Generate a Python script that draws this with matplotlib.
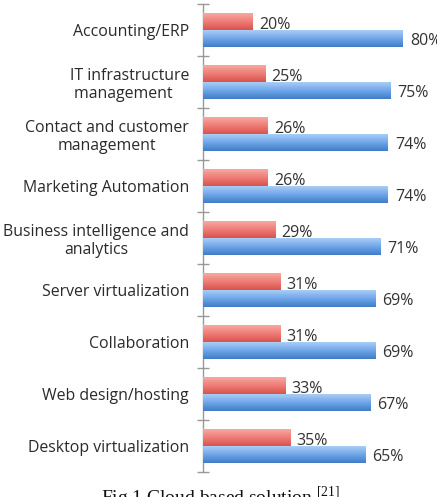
import numpy as np
import matplotlib
matplotlib.use("Agg")
import matplotlib.pyplot as plt
from matplotlib.colors import LinearSegmentedColormap

categories = ["Accounting/ERP", "IT infrastructure\nmanagement   ", "Contact and customer\nmanagement",
              "Marketing Automation", "Business intelligence and\nanalytics", "Server virtualization",
              "Collaboration", "Web design/hosting", "Desktop virtualization"]
red_values = [20, 25, 26, 26, 29, 31, 31, 33, 35]
blue_values = [80, 75, 74, 74, 71, 69, 69, 67, 65]

plt.rcParams["mathtext.fontset"] = "custom"
plt.rcParams["mathtext.rm"] = "Liberation Serif"

W, H = 437, 497
fig = plt.figure(figsize=(W / 100, H / 100), dpi=100)
ax = fig.add_axes([203 / W, (H - 472) / H, 1 - 203 / W, (472 - 4) / H])

y = np.arange(len(categories))
h = 0.325
red_bars = ax.barh(y - h / 2, red_values, height=h, color="#E8706A", zorder=2)
blue_bars = ax.barh(y + h / 2, blue_values, height=h, color="#5B97DE", zorder=2)

red_cmap = LinearSegmentedColormap.from_list("r", ["#F7A8A2", "#EE7D76", "#D9534D"])
blue_cmap = LinearSegmentedColormap.from_list("b", ["#A9CDF5", "#6EA6E8", "#3F7CC8"])
grad = np.linspace(0, 1, 64).reshape(-1, 1)
for bars, cm in ((red_bars, red_cmap), (blue_bars, blue_cmap)):
    for p in bars:
        x0, y0 = p.get_x(), p.get_y()
        w, hh = p.get_width(), p.get_height()
        ax.imshow(grad, cmap=cm, aspect="auto", extent=(x0, x0 + w, y0 + hh, y0),
                  origin="upper", zorder=3, clip_path=p, interpolation="bilinear")

ax.set_ylim(len(categories) - 0.5, -0.5)
ax.set_xlim(0, 93.6)

valfont = dict(family=["Open Sans", "DejaVu Sans"], fontsize=11.5, color="#333333")
catfont = dict(family=["Open Sans", "DejaVu Sans"], fontsize=11.4, color="#2a2a2a")
for yy, v in zip(y, red_values):
    ax.annotate(f"{v}%", (v, yy - h / 2), xytext=(6, -3), textcoords="offset pixels",
                ha="left", va="center", **valfont)
for yy, v in zip(y, blue_values):
    ax.annotate(f"{v}%", (v, yy + h / 2), xytext=(7, -3), textcoords="offset pixels",
                ha="left", va="center", **valfont)

for s in ("top", "right", "bottom"):
    ax.spines[s].set_visible(False)
ax.spines["left"].set_color("#999999")
ax.spines["left"].set_linewidth(1.0)
ax.set_xticks([])
ax.set_yticks(np.arange(len(categories) + 1) - 0.5)
ax.set_yticklabels([])
ax.tick_params(axis="y", which="major", direction="inout", length=8, color="#999999", width=1)
ax.set_yticks(y, minor=True)
ax.set_yticklabels(categories, minor=True, multialignment="center", linespacing=1.18, **catfont)
ax.tick_params(axis="y", which="minor", length=0, pad=10)
ax.patch.set_alpha(0)

fig.text(0.505, (H - 484) / H, r"Fig 1 Cloud based solution $^{\mathrm{[21]}}$", ha="center", va="top",
         family="Liberation Serif", fontsize=14, color="#111111")

fig.savefig("out.png", dpi=100)
